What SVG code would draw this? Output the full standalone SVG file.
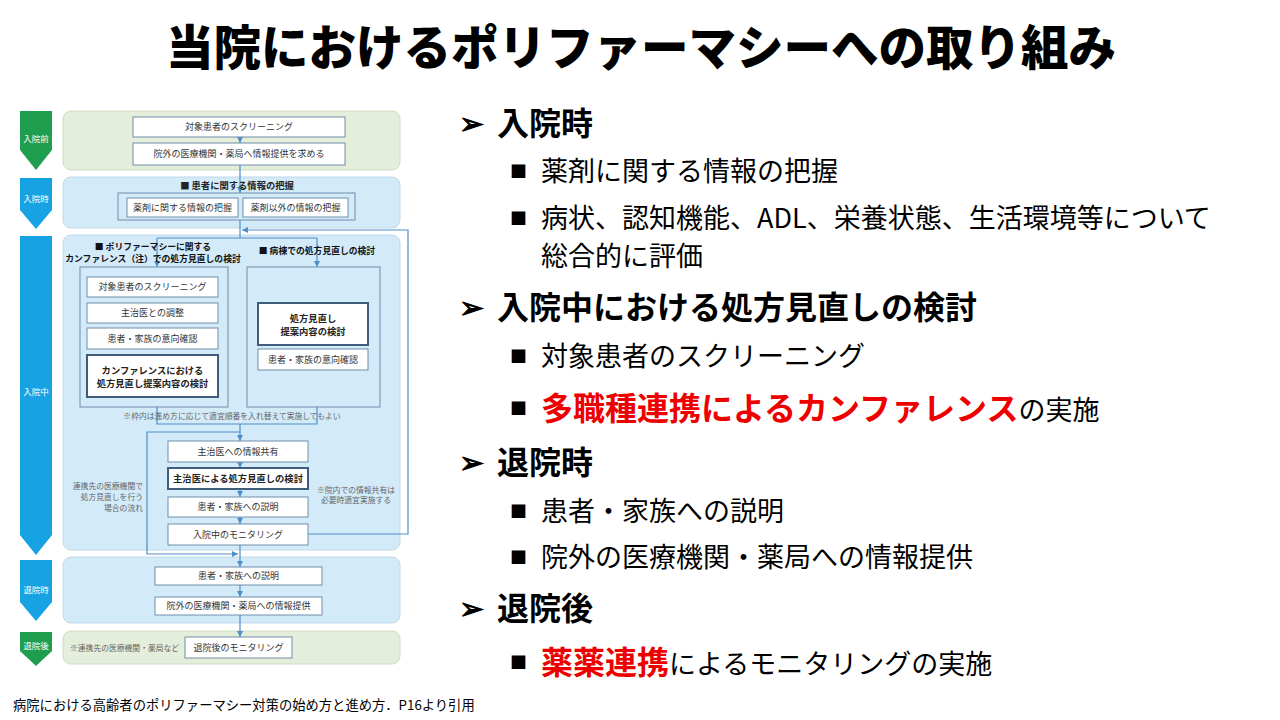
<svg xmlns="http://www.w3.org/2000/svg" width="1280" height="720" viewBox="0 0 1280 720">
<defs>
<marker id="ah" viewBox="0 0 6 6" refX="6" refY="3" markerWidth="6" markerHeight="6" markerUnits="userSpaceOnUse" orient="auto">
<path d="M0,0 L6,3 L0,6 Z" fill="#4f8ec8"/>
</marker>
<style>
text{font-family:"Noto Sans CJK JP","Noto Sans CJK SC",sans-serif;}
.phase{fill:#ffffff;font-size:8.5px;text-anchor:middle;}
.pg{fill:#1f9e50;}
.pb{fill:#17a3e3;}
.panb{fill:#d3eaf9;stroke:#c0d9ea;stroke-width:1;}
.pang{fill:#e4eeda;stroke:#d0dcc4;stroke-width:1;}
.box{fill:#ffffff;stroke:#6f8eab;stroke-width:1;}
.boxb{fill:#ffffff;stroke:#3f5e7c;stroke-width:2;}
.frame{fill:none;stroke:#6f8eab;stroke-width:1;}
.sub{fill:#d3eaf9;stroke:#6f8eab;stroke-width:1;}
.bt{font-size:9px;fill:#333333;text-anchor:middle;}
.btb{font-size:9.3px;fill:#222222;text-anchor:middle;font-weight:bold;}
.hd{font-size:8.8px;fill:#111111;text-anchor:middle;font-weight:bold;}
.note{font-size:7.8px;fill:#666666;}
.con{fill:none;stroke:#4f8ec8;stroke-width:1.2;}
.title{font-size:47.5px;font-weight:900;fill:#000000;text-anchor:middle;}
.h1{font-size:32px;font-weight:bold;fill:#000000;}
.arr{font-family:"DejaVu Sans",sans-serif;font-size:30px;fill:#000000;stroke:#000000;stroke-width:1;}
.it{font-size:27px;fill:#000000;}
.sq{font-size:17px;fill:#000000;}
.red{font-size:32px;font-weight:bold;fill:#ee0000;}
</style>
</defs>
<rect width="1280" height="720" fill="#ffffff"/>

<g id="title">
<text class="title" x="641" y="65">当院におけるポリファーマシーへの取り組み</text>
</g>

<g id="phases">
<polygon class="pg" points="20,111 52,111 52,150 36,170 20,150"/>
<text class="phase" x="36" y="142">入院前</text>
<polygon class="pb" points="20,178 52,178 52,210 36,229 20,210"/>
<text class="phase" x="36" y="202">入院時</text>
<polygon class="pb" points="20,236 52,236 52,535 36,555 20,535"/>
<text class="phase" x="36" y="395">入院中</text>
<polygon class="pb" points="20,560 52,560 52,602 36,621 20,602"/>
<text class="phase" x="36" y="593">退院時</text>
<polygon class="pg" points="20,632 52,632 52,651 36,666 20,651"/>
<text class="phase" x="36" y="649">退院後</text>
</g>

<g id="panels">
<rect class="pang" x="63" y="111" width="337" height="59" rx="8"/>
<rect class="panb" x="63" y="177" width="337" height="51" rx="8"/>
<rect class="panb" x="63" y="235" width="337" height="315" rx="8"/>
<rect class="panb" x="63" y="557" width="337" height="66" rx="8"/>
<rect class="pang" x="63" y="631" width="337" height="33" rx="8"/>
</g>

<g id="connectors">
<line class="con" x1="240" y1="137" x2="240" y2="143" marker-end="url(#ah)"/>
<line class="con" x1="240" y1="165" x2="240" y2="193" marker-end="url(#ah)"/>
<polyline class="con" points="240,220 240,238"/>
<polyline class="con" points="157,238 317,238"/>
<line class="con" x1="157" y1="238" x2="157" y2="267" marker-end="url(#ah)"/>
<line class="con" x1="317" y1="238" x2="317" y2="267" marker-end="url(#ah)"/>
<polyline class="con" points="308,534 408,534 408,230 242,230" marker-end="url(#ah)"/>
<polyline class="con" points="157,407 157,424 317,424 317,407"/>
<line class="con" x1="240" y1="424" x2="240" y2="441" marker-end="url(#ah)"/>
<polyline class="con" points="240,432 147,432 147,554 238,554" marker-end="url(#ah)"/>
<line class="con" x1="240" y1="462" x2="240" y2="468" marker-end="url(#ah)"/>
<line class="con" x1="240" y1="489" x2="240" y2="497" marker-end="url(#ah)"/>
<line class="con" x1="240" y1="517" x2="240" y2="524" marker-end="url(#ah)"/>
<line class="con" x1="240" y1="545" x2="240" y2="567" marker-end="url(#ah)"/>
<line class="con" x1="240" y1="585" x2="240" y2="597" marker-end="url(#ah)"/>
<line class="con" x1="240" y1="615" x2="240" y2="637" marker-end="url(#ah)"/>
</g>

<g id="pre-screening">
<rect class="box" x="133" y="117" width="212" height="20"/>
<text class="bt" x="239" y="130.4">対象患者のスクリーニング</text>
</g>
<g id="pre-request">
<rect class="box" x="133" y="143" width="212" height="22"/>
<text class="bt" x="239" y="157.4">院外の医療機関・薬局へ情報提供を求める</text>
</g>

<g id="adm-info">
<text class="btb" x="237" y="188.6">■ 患者に関する情報の把握</text>
<rect class="frame" x="118" y="193" width="237" height="27"/>
</g>
<g id="adm-drug">
<rect class="box" x="127" y="198" width="111" height="19"/>
<text class="bt" x="182.5" y="211">薬剤に関する情報の把握</text>
</g>
<g id="adm-other">
<rect class="box" x="243" y="198" width="105" height="19"/>
<text class="bt" x="295.5" y="211">薬剤以外の情報の把握</text>
</g>

<g id="conf-panel">
<text class="hd" x="153" y="249.5">■ ポリファーマシーに関する</text>
<text class="hd" x="153" y="261.5">カンファレンス（注）での処方見直しの検討</text>
<rect class="sub" x="80" y="267" width="148" height="140"/>
</g>
<g id="ward-panel">
<text class="hd" x="317" y="253.5">■ 病棟での処方見直しの検討</text>
<rect class="sub" x="247" y="267" width="133" height="140"/>
</g>
<g id="conf-screening">
<rect class="box" x="87" y="277" width="131" height="20"/>
<text class="bt" x="152.5" y="290.4">対象患者のスクリーニング</text>
</g>
<g id="conf-doctor">
<rect class="box" x="87" y="303" width="131" height="20"/>
<text class="bt" x="152.5" y="316.4">主治医との調整</text>
</g>
<g id="conf-intent">
<rect class="box" x="87" y="328" width="131" height="21"/>
<text class="bt" x="152.5" y="341.9">患者・家族の意向確認</text>
</g>
<g id="conf-review">
<rect class="boxb" x="87" y="355" width="131" height="42"/>
<text class="btb" x="152.5" y="373.5">カンファレンスにおける</text>
<text class="btb" x="152.5" y="386.5">処方見直し提案内容の検討</text>
</g>
<g id="ward-review">
<rect class="boxb" x="258" y="303" width="110" height="42"/>
<text class="btb" x="313" y="321.5">処方見直し</text>
<text class="btb" x="313" y="334.5">提案内容の検討</text>
</g>
<g id="ward-intent">
<rect class="box" x="258" y="349" width="110" height="21"/>
<text class="bt" x="313" y="362.9">患者・家族の意向確認</text>
</g>
<g id="order-note">
<text class="note" x="232" y="419" text-anchor="middle">※枠内は進め方に応じて適宜順番を入れ替えて実施してもよい</text>
</g>
<g id="share">
<rect class="box" x="168" y="441" width="140" height="21"/>
<text class="bt" x="238" y="454.9">主治医への情報共有</text>
</g>
<g id="doctor-review">
<rect class="boxb" x="168" y="468" width="140" height="21"/>
<text class="btb" x="238" y="482">主治医による処方見直しの検討</text>
</g>
<g id="explain-in">
<rect class="box" x="168" y="497" width="140" height="20"/>
<text class="bt" x="238" y="510.4">患者・家族への説明</text>
</g>
<g id="monitor-in">
<rect class="box" x="168" y="524" width="140" height="21"/>
<text class="bt" x="238" y="537.9">入院中のモニタリング</text>
</g>
<g id="bypass-note">
<text class="note" x="143" y="489" text-anchor="end">連携先の医療機関で</text>
<text class="note" x="143" y="500" text-anchor="end">処方見直しを行う</text>
<text class="note" x="143" y="510.5" text-anchor="end">場合の流れ</text>
</g>
<g id="share-note">
<text class="note" x="356" y="493" text-anchor="middle">※院内での情報共有は</text>
<text class="note" x="356" y="503" text-anchor="middle">必要時適宜実施する</text>
</g>

<g id="dis-explain">
<rect class="box" x="155" y="567" width="167" height="18"/>
<text class="bt" x="238.5" y="579.4">患者・家族への説明</text>
</g>
<g id="dis-provide">
<rect class="box" x="155" y="597" width="167" height="18"/>
<text class="bt" x="238.5" y="609.4">院外の医療機関・薬局への情報提供</text>
</g>
<g id="post-monitor">
<text class="note" x="70" y="651">※連携先の医療機関・薬局など</text>
<rect class="box" x="185" y="637" width="107" height="21"/>
<text class="bt" x="238.5" y="650.9">退院後のモニタリング</text>
</g>

<g id="source">
<text x="13" y="710" font-size="13.3" fill="#000000">病院における高齢者のポリファーマシー対策の始め方と進め方．P16より引用</text>
</g>

<g id="bullets">
<text class="arr" x="459" y="134">➢</text>
<text class="h1" x="497" y="135">入院時</text>
<text class="sq" x="510" y="178">■</text>
<text class="it" x="541" y="181">薬剤に関する情報の把握</text>
<text class="sq" x="510" y="225">■</text>
<text class="it" x="541" y="228">病状、認知機能、ADL、栄養状態、生活環境等について</text>
<text class="it" x="541" y="266">総合的に評価</text>

<text class="arr" x="459" y="318">➢</text>
<text class="h1" x="497" y="319">入院中における処方見直しの検討</text>
<text class="sq" x="510" y="363">■</text>
<text class="it" x="541" y="366">対象患者のスクリーニング</text>
<text class="sq" x="510" y="415">■</text>
<text x="541" y="420"><tspan class="red">多職種連携によるカンファレンス</tspan><tspan class="it">の実施</tspan></text>

<text class="arr" x="459" y="473">➢</text>
<text class="h1" x="497" y="474">退院時</text>
<text class="sq" x="510" y="518">■</text>
<text class="it" x="541" y="521">患者・家族への説明</text>
<text class="sq" x="510" y="564">■</text>
<text class="it" x="541" y="567">院外の医療機関・薬局への情報提供</text>

<text class="arr" x="459" y="619">➢</text>
<text class="h1" x="497" y="620">退院後</text>
<text class="sq" x="510" y="669">■</text>
<text x="541" y="674"><tspan class="red">薬薬連携</tspan><tspan class="it">によるモニタリングの実施</tspan></text>
</g>
</svg>
